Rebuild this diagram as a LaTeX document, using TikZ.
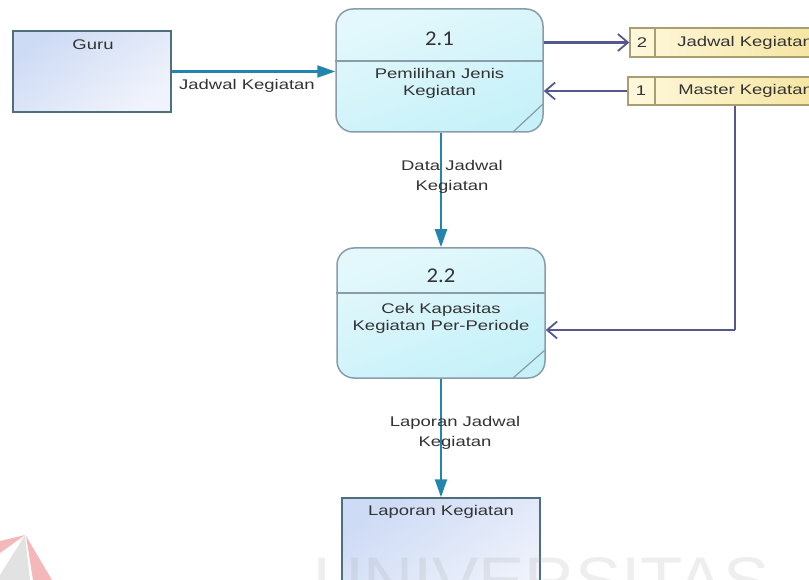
\documentclass[tikz,border=0pt]{standalone}
\usepackage{fontspec}
\setmainfont{Liberation Sans}
\newfontfamily\numfont{Carlito}
\usetikzlibrary{arrows.meta}

\definecolor{procline}{HTML}{8A9CA9}
\definecolor{proctop}{HTML}{E4F8FC}
\definecolor{procbot}{HTML}{C6F1F9}
\definecolor{entline}{HTML}{4F6F7E}
\definecolor{entA}{HTML}{CEDBF5}
\definecolor{entB}{HTML}{F0F3FB}
\definecolor{storeline}{HTML}{A89E72}
\definecolor{storeA}{HTML}{FFF8DC}
\definecolor{storeB}{HTML}{F5E5A0}
\definecolor{flowcol}{HTML}{2384AE}
\definecolor{dfcol}{HTML}{55588F}
\definecolor{txt}{HTML}{333333}
\definecolor{wm}{HTML}{9A9A9A}
\definecolor{wmred}{HTML}{F4B8B8}
\definecolor{wmgray}{HTML}{E2E2E2}

\tikzset{
  lbl/.style={font=\fontsize{14}{17}\selectfont, text=txt, xscale=1.32,
              align=center, inner sep=0pt},
  flbl/.style={lbl, font=\fontsize{14}{20}\selectfont},
  numlbl/.style={font=\numfont\fontsize{21}{24}\selectfont, text=txt,
              xscale=1.08, inner sep=0pt},
  procbox/.style={rectangle, rounded corners=17pt, draw=procline,
              line width=1.5pt, top color=proctop, bottom color=procbot,
              shading angle=20, inner sep=0pt},
  entbox/.style={rectangle, draw=entline, line width=1.5pt,
              top color=entA, bottom color=entB, shading angle=35, inner sep=0pt},
  storebox/.style={rectangle, draw=storeline, line width=1.4pt,
              left color=storeA, right color=storeB, inner sep=0pt},
  flow/.style={draw=flowcol, line width=2.1pt,
              -{Triangle[length=18pt,width=12pt]}},
  dflow/.style={draw=dfcol, line width=2.1pt,
              -{Straight Barb[length=10pt,width=17pt,line width=1.8pt]}},
  dline/.style={draw=dfcol, line width=2.1pt},
}

\begin{document}
\begin{tikzpicture}[x=1pt,y=-1pt]
\useasboundingbox (0,0) rectangle (809,580);
\clip (0,0) rectangle (809,580);
\fill[white] (0,0) rectangle (809,580);

% faint logo mark in the lower left corner
\fill[wmgray] (25,535) -- (0,575) -- (0,580) -- (30,580) -- cycle;
\fill[wmred] (25,535) -- (0,541) -- (0,553) -- cycle;
\fill[wmred] (26,536) -- (33,580) -- (52,580) -- cycle;

% external entities
\node[entbox, minimum width=158pt, minimum height=81pt] (guru) at (92,71.5) {};
\node[lbl] (guruT) at (93,45) {Guru};

\node[entbox, minimum width=198pt, minimum height=110pt] (lap) at (441,553) {};
\node[lbl] (lapT) at (441,512) {Laporan Kegiatan};

% processes
\node[procbox, minimum width=207pt, minimum height=123pt] (p21) at (439.5,70.5) {};
\coordinate (p21d) at (0,61);
\draw[procline, line width=1.5pt] (p21.west |- p21d) -- (p21.east |- p21d);
\draw[procline, line width=1.2pt] (513,132) -- (543,104);
\node[numlbl] (p21n) at (439.5,39) {2.1};
\node[lbl] (p21t) at (439.5,83) {Pemilihan Jenis\\Kegiatan};

\node[procbox, minimum width=208pt, minimum height=130pt] (p22) at (441,313) {};
\coordinate (p22d) at (0,293);
\draw[procline, line width=1.5pt] (p22.west |- p22d) -- (p22.east |- p22d);
\draw[procline, line width=1.2pt] (513,378) -- (545,350);
\node[numlbl] (p22n) at (441,276) {2.2};
\node[lbl] (p22t) at (441,318) {Cek Kapasitas\\Kegiatan Per-Periode};

% data stores (open on the right)
\node[storebox, minimum width=190pt, minimum height=29pt] (s2) at (725,42.5) {};
\draw[storeline, line width=1.4pt] (655,28) -- (655,57);
\node[lbl] (s2n) at (642,42.5) {2};
\node[lbl, anchor=west] (s2t) at (677,42.5) {Jadwal Kegiatan};

\node[storebox, minimum width=192pt, minimum height=28pt] (s1) at (724,91) {};
\draw[storeline, line width=1.4pt] (655,77) -- (655,105);
\node[lbl] (s1n) at (641,91) {1};
\node[lbl, anchor=west] (s1t) at (678,91) {Master Kegiatan};

% data flows
\draw[flow] (guru.east) -- (guru.east -| p21.west);
\node[lbl] (f1) at (247,86) {Jadwal Kegiatan};

\draw[dflow] (s2.west -| p21.east) -- (s2.west);
\draw[dflow] (s1.west) -- (s1.west -| p21.east);

\coordinate (bend) at (735,330);
\draw[dline] (bend |- s1.south) -- (bend);
\draw[dflow] (bend) -- (bend -| p22.east);

\draw[flow] (p22.north |- p21.south) -- (p22.north);
\node[flbl] (f2) at (452,177) {Data Jadwal\\Kegiatan};

\draw[flow] (p22.south) -- (lap.north);
\node[flbl] (f3) at (455,433) {Laporan Jadwal\\Kegiatan};

% faint institution watermark
\node[font=\fontsize{66}{70}\selectfont, text=wm, opacity=0.16,
      anchor=base west, inner sep=0pt, xscale=1.05] (wmark) at (313,603) {UNIVERSITAS};
\end{tikzpicture}
\end{document}
